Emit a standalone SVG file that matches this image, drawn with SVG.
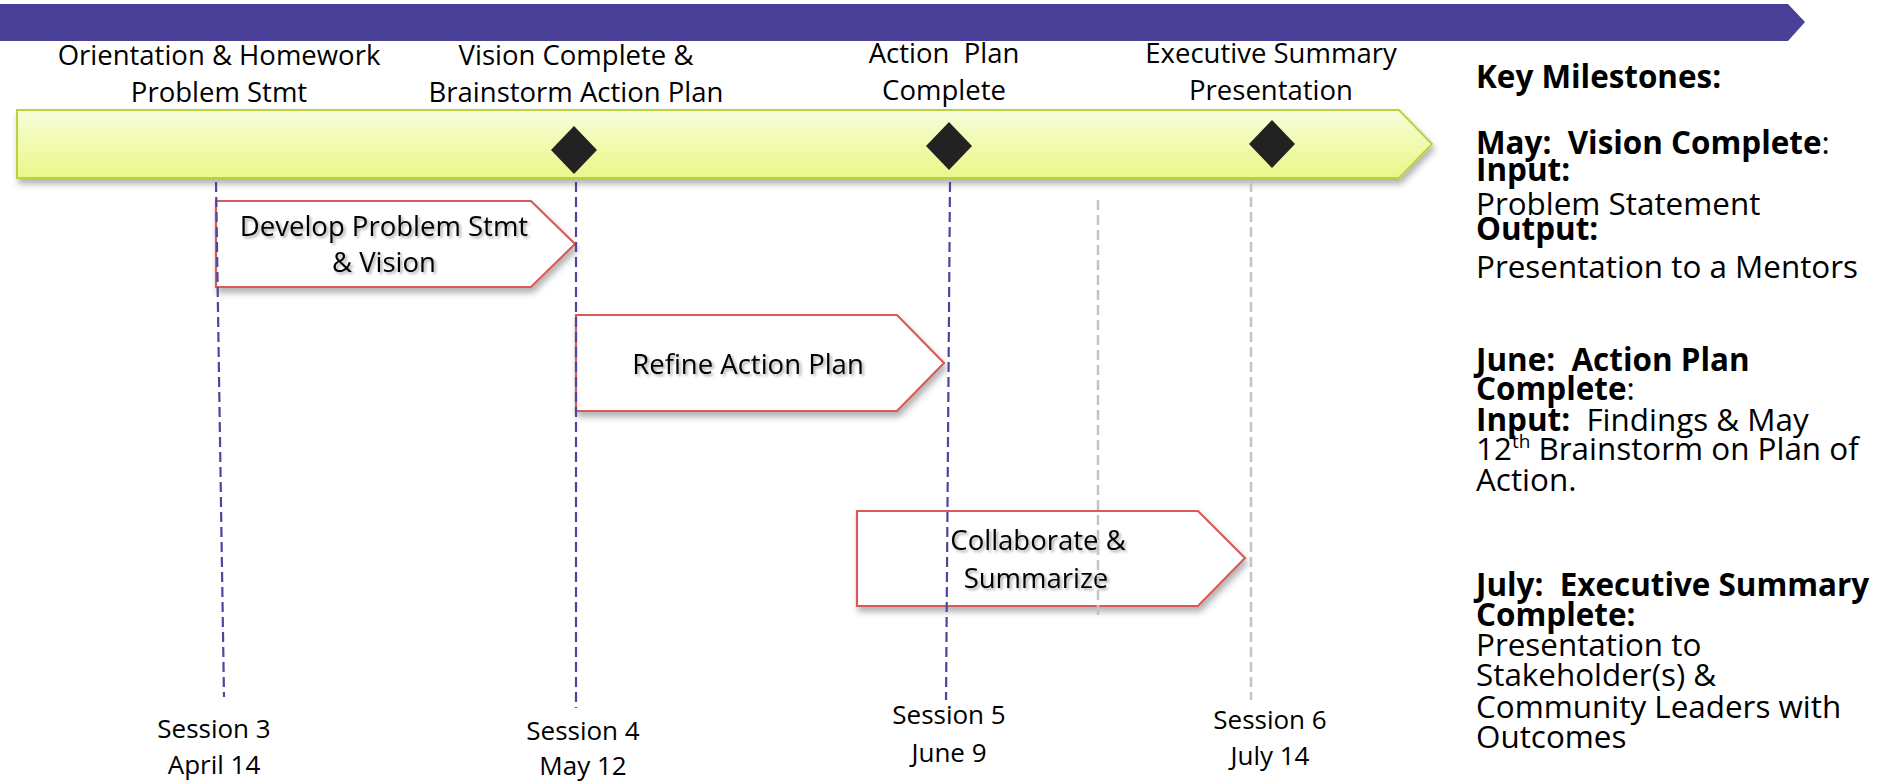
<svg xmlns="http://www.w3.org/2000/svg" width="1881" height="783" viewBox="0 0 1881 783">
  <defs>
    <linearGradient id="greenGrad" x1="0" y1="0" x2="0" y2="1">
      <stop offset="0" stop-color="#f7fcdc"/>
      <stop offset="0.5" stop-color="#f1faae"/>
      <stop offset="1" stop-color="#eaf78a"/>
    </linearGradient>
    <filter id="shadow" x="-5%" y="-20%" width="110%" height="150%">
      <feDropShadow dx="2" dy="5" stdDeviation="3" flood-color="#000" flood-opacity="0.3"/>
    </filter>
    <filter id="textShadow" x="-10%" y="-30%" width="120%" height="160%">
      <feDropShadow dx="2" dy="2" stdDeviation="1.5" flood-color="#000" flood-opacity="0.35"/>
    </filter>
    <style>
      .lbl { font-family: "Open Sans", "Liberation Sans", sans-serif; font-size: 27.5px; fill: #000; text-anchor: middle; }
      .sess { font-family: "Open Sans", "Liberation Sans", sans-serif; font-size: 26px; fill: #000; text-anchor: middle; }
      .key { font-family: "Open Sans", "Liberation Sans", sans-serif; font-size: 31.4px; fill: #000; }
      .b { font-weight: bold; }
      .chev { fill: #ffffff; stroke: #d65c5c; stroke-width: 2.2; filter: url(#shadow); }
      .diamond { fill: #222222; }
      .vline { fill: none; stroke: #4f45a0; stroke-width: 2.2; stroke-dasharray: 10 5; }
      .gline { fill: none; stroke: #c4c4c4; stroke-width: 2.5; stroke-dasharray: 10 5; }
      .inner { filter: url(#textShadow); }
    </style>
  </defs>

  <rect x="0" y="0" width="1881" height="783" fill="#ffffff"/>

  <g id="header-bar">
    <polygon points="0,4 1788,4 1805,22 1788,41 0,41" fill="#4b4097"/>
  </g>

  <g id="timeline-bar">
    <polygon points="17,110 1399,110 1432,144 1399,178 17,178" fill="url(#greenGrad)" stroke="#b6d53a" stroke-width="2" filter="url(#shadow)"/>
  </g>

  <g id="milestone-labels">
    <text class="lbl" x="219" y="65">Orientation &amp; Homework</text>
    <text class="lbl" x="219" y="102">Problem Stmt</text>
    <text class="lbl" x="576" y="65">Vision Complete &amp;</text>
    <text class="lbl" x="576" y="102">Brainstorm Action Plan</text>
    <text class="lbl" x="944" y="63" xml:space="preserve">Action  Plan</text>
    <text class="lbl" x="944" y="100">Complete</text>
    <text class="lbl" x="1271" y="63">Executive Summary</text>
    <text class="lbl" x="1271" y="100">Presentation</text>
  </g>

  <g id="diamond-vision">
    <polygon class="diamond" points="574,126 597,150 574,174 551,150"/>
  </g>
  <g id="diamond-action">
    <polygon class="diamond" points="949,122 972,146 949,170 926,146"/>
  </g>
  <g id="diamond-summary">
    <polygon class="diamond" points="1272,120 1295,144 1272,168 1249,144"/>
  </g>

  <g id="task-develop">
    <polygon class="chev" points="216,201 531,201 575,244 531,287 216,287"/>
    <g class="inner">
      <text class="lbl" x="384" y="236">Develop Problem Stmt</text>
      <text class="lbl" x="384" y="272">&amp; Vision</text>
    </g>
  </g>

  <g id="task-refine">
    <polygon class="chev" points="576,315 897,315 944,363 897,411 576,411"/>
    <g class="inner">
      <text class="lbl" x="748" y="374">Refine Action Plan</text>
    </g>
  </g>

  <g id="task-collaborate">
    <polygon class="chev" points="857,511 1198,511 1245,558 1198,606 857,606"/>
    <g class="inner">
      <text class="lbl" x="1038" y="550">Collaborate &amp;</text>
      <text class="lbl" x="1036" y="588">Summarize</text>
    </g>
  </g>

  <g id="connectors">
    <line class="vline" x1="216" y1="182" x2="224" y2="697"/>
    <line class="vline" x1="576" y1="182" x2="576" y2="708"/>
    <line class="vline" x1="950" y1="182" x2="946" y2="700"/>
    <line class="gline" x1="1098" y1="200" x2="1098" y2="617"/>
    <line class="gline" x1="1251" y1="182" x2="1251" y2="700"/>
  </g>

  <g id="session-3">
    <text class="sess" x="214" y="738">Session 3</text>
    <text class="sess" x="214" y="774">April 14</text>
  </g>
  <g id="session-4">
    <text class="sess" x="583" y="740">Session 4</text>
    <text class="sess" x="583" y="775">May 12</text>
  </g>
  <g id="session-5">
    <text class="sess" x="949" y="724">Session 5</text>
    <text class="sess" x="949" y="762">June 9</text>
  </g>
  <g id="session-6">
    <text class="sess" x="1270" y="729">Session 6</text>
    <text class="sess" x="1270" y="765">July 14</text>
  </g>

  <g id="key-milestones">
    <text class="key b" x="1476" y="88">Key Milestones:</text>
    <text class="key" x="1476" y="154" xml:space="preserve"><tspan class="b">May:  Vision Complete</tspan>:</text>
    <text class="key b" x="1476" y="181">Input:</text>
    <text class="key" x="1476" y="215">Problem Statement</text>
    <text class="key b" x="1476" y="240">Output:</text>
    <text class="key" x="1476" y="278">Presentation to a Mentors</text>

    <text class="key b" x="1476" y="371" xml:space="preserve">June:  Action Plan</text>
    <text class="key" x="1476" y="400"><tspan class="b">Complete</tspan>:</text>
    <text class="key" x="1476" y="431" xml:space="preserve"><tspan class="b">Input:</tspan>  Findings &amp; May</text>
    <text class="key" x="1476" y="460">12<tspan font-size="19" dy="-12">th</tspan><tspan dy="12"> Brainstorm on Plan of</tspan></text>
    <text class="key" x="1476" y="491">Action.</text>

    <text class="key b" x="1476" y="596" xml:space="preserve">July:  Executive Summary</text>
    <text class="key b" x="1476" y="626">Complete:</text>
    <text class="key" x="1476" y="656">Presentation to</text>
    <text class="key" x="1476" y="686">Stakeholder(s) &amp;</text>
    <text class="key" x="1476" y="718">Community Leaders with</text>
    <text class="key" x="1476" y="748">Outcomes</text>
  </g>
</svg>
